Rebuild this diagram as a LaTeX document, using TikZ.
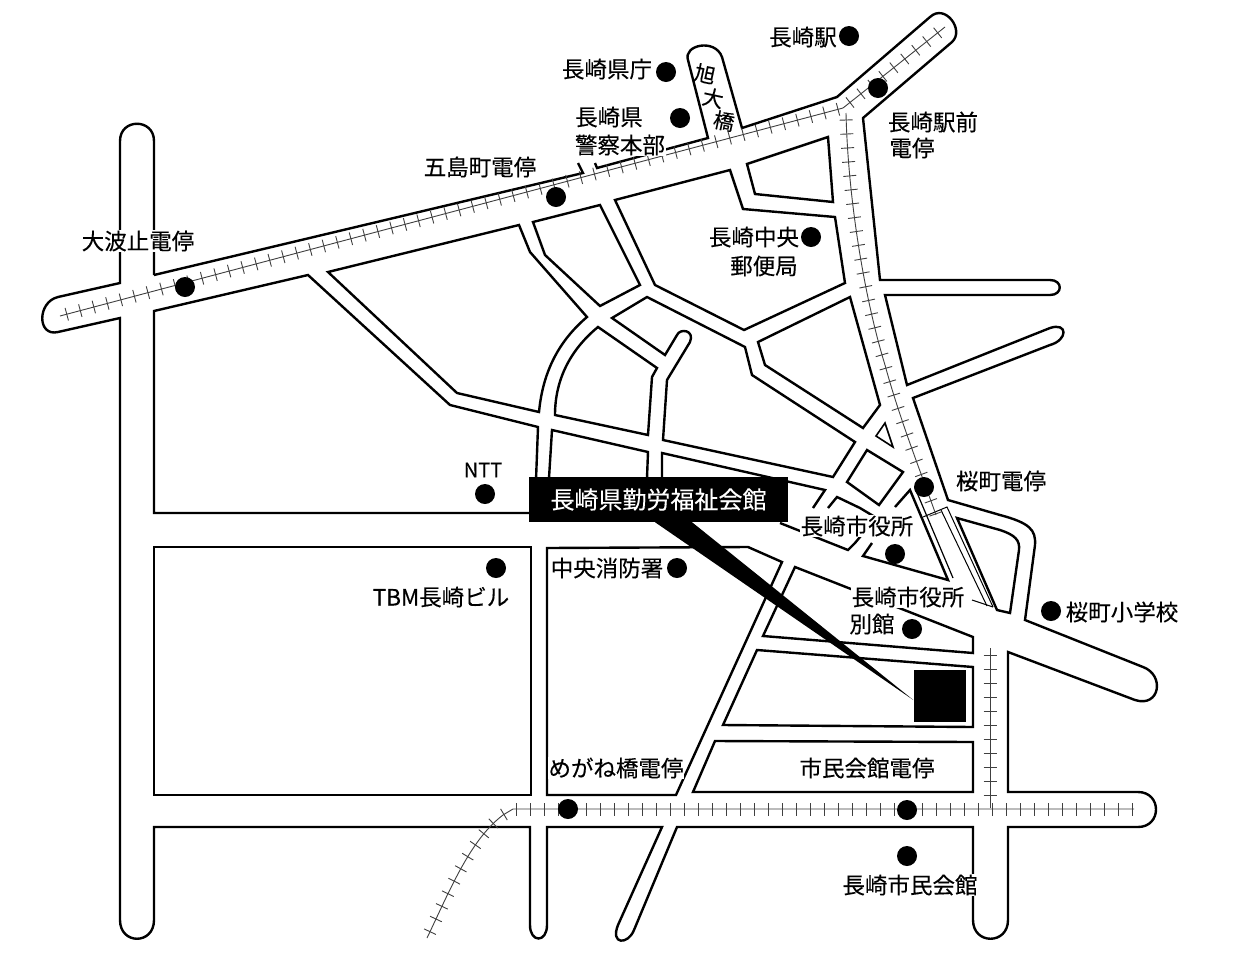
\documentclass[tikz,border=0pt]{standalone}
\usepackage{fontspec}
\setmainfont{Noto Sans CJK JP}[FakeBold=0.25]
\usetikzlibrary{decorations.markings}
\tikzset{
  road/.style={draw=black,line width=2.4pt,line join=miter},
  lbl/.style={fill=white,inner sep=0.5pt,font=\fontsize{22.5}{24}\selectfont},
  lblnf/.style={inner sep=0pt,font=\fontsize{21}{22}\selectfont},
  stop/.style={circle,fill=black,inner sep=0pt,minimum size=20pt},
  rail/.style={draw=black!75,line width=0.9pt,postaction={decorate},
    decoration={markings,mark=between positions 7pt and -1pt step 14pt with
      {\draw[black!75,line width=0.9pt] (0pt,-6.5pt)--(0pt,6.5pt);}}},
}
\begin{document}
\begin{tikzpicture}[x=1pt,y=-1pt]
\useasboundingbox (0,0) rectangle (1248,954);
\fill[white] (0,0) rectangle (1248,954);
% outer outline
\path[road] (154,275)--(154,141) .. controls (154,118) and (120,118) .. (120,141)
 --(120,283)--(58,297) .. controls (37,302) and (37,337) .. (58,332)--(120,318)
 --(120,920) .. controls (120,945) and (154,945) .. (154,920)
 --(154,827)--(530,827)--(530,925) .. controls (530,943) and (547,943) .. (547,925)
 --(547,827)--(662,827)--(618,925) .. controls (610,945) and (628,945) .. (634,930)
 --(677,827)--(973,827)--(973,920) .. controls (973,945) and (1008,945) .. (1008,920)
 --(1008,827)--(1138,827) .. controls (1162,827) and (1162,792) .. (1138,792)
 --(1008,792)--(1008,652)--(1135,700) .. controls (1160,708) and (1165,675) .. (1143,667)
 --(1025,620)--(1035,545) .. controls (1036,530) and (1030,523) .. (1000,515)
 --(948,500)--(913,398)--(1050,345) .. controls (1068,340) and (1068,322) .. (1050,328)
 --(907,385)--(885,295)--(1050,295) .. controls (1063,295) and (1063,280) .. (1050,280)
 --(880,280)--(863,118)--(952,42) .. controls (965,30) and (945,3) .. (930,17)
 --(837,97)--(742,128)--(722,57) .. controls (715,38) and (683,45) .. (688,60)
 --(708,138)--(597,168)--(595,163);
\path[road] (578,163)--(583,173)--(154,275);
% blocks
\path[road] (530,513)--(154,513)--(154,311)--(308,275)--(450,405)--(538,427)--(536,480);
\path[road] (328,272)--(457,393)--(539,412) .. controls (543,370) and (560,340) .. (587,317)--(530,252)--(519,225)--cycle;
\path[road] (533,222)--(600,205)--(640,285)--(600,306)--(545,255)--cycle;
\path[road] (615,200)--(730,170)--(743,209)--(835,217)--(845,283)--(744,330)--(655,285)--cycle;
\path[road] (747,164)--(828,137)--(833,202)--(755,194)--cycle;
\path[road] (850,297)--(758,342)--(765,365)--(863,428)--(880,405)--cycle;
\path[road] (647,297)--(745,347)--(752,375)--(855,442)--(833,477)--(663,440)--(667,380)--(690,342) .. controls (695,330) and (680,328) .. (677,335)--(665,355)--(612,318)--cycle;
\path[road] (598,327)--(657,368)--(652,377)--(648,435)--(555,415) .. controls (555,380) and (570,350) .. (598,327)--cycle;
\path[road] (549,478)--(552,430)--(648,452)--(647,478);
\path[road] (662,478)--(662,453)--(825,490)--(813,508);
\path[road] (780,523)--(848,550)--(855,543)--(870,525);
\path[road] (828,508)--(837,497)--(860,508)--(880,520);
\path[road] (895,507)--(910,490)--(948,580)--(863,556)--(872,543);
\path[road,line width=1.2pt] (915,488)--(953,578);
\path[road,line width=1pt] (923,517)--(947,507)--(993,607);
\path[road,line width=1pt] (941,510)--(987,606);
\path[road,line width=1pt] (972,600)--(993,607);
\path[road] (957,518)--(1000,530) .. controls (1015,535) and (1020,540) .. (1019,550)--(1010,613)--(997,610)--cycle;
\path[road] (867,450)--(903,472)--(879,505)--(847,482)--cycle;
\path[road,line width=1.6pt] (885,423)--(876,436)--(893,447)--cycle;
\path[road] (154,547) rectangle (531,795);
\path[road] (547,548)--(748,547)--(782,562)--(676,795)--(547,795)--cycle;
\path[road] (795,567)--(973,637)--(973,653)--(763,636)--cycle;
\path[road] (757,650)--(973,667)--(973,727)--(723,725)--cycle;
\path[road] (715,741)--(973,742)--(973,792)--(693,792)--cycle;
% tram tracks
\path[rail] (60,316)--(843,108)--(945,27);
\path[rail] (846,113) .. controls (848,200) and (865,300) .. (885,365) .. controls (900,420) and (920,470) .. (936,515);
\path[rail] (427,938) .. controls (450,890) and (470,840) .. (503,815)--(513,809)--(1134,809);
\path[rail] (990,648)--(990,808);
% labels
\node[lbl] (nEki) at (803,37) {長崎駅};
\node[lbl] (nKencho) at (607,69) {長崎県庁};
\node[lbl] (nKei1) at (609,117) {長崎県};
\node[lbl] (nKei2) at (620,145) {警察本部};
\node[lbl] (nEkimae1) at (933,122) {長崎駅前};
\node[lbl] (nEkimae2) at (912,148) {電停};
\node[lblnf,rotate=-12] (nBr1) at (705,74) {旭};
\node[lblnf,rotate=-12] (nBr2) at (713,98) {大};
\node[lblnf,rotate=-12] (nBr3) at (724,121) {橋};
\node[lbl] (nGoto) at (480,167) {五島町電停};
\node[lbl] (nOhato) at (138,241) {大波止電停};
\node[lbl] (nPost1) at (754,237) {長崎中央};
\node[lbl] (nPost2) at (764,266) {郵便局};
\node[lbl,font=\fontsize{20}{22}\selectfont] (nNtt) at (483,470) {NTT};
\node[lbl] (nSakura) at (1001,481) {桜町電停};
\node[lbl] (nCity) at (857,526) {長崎市役所};
\node[lbl] (nTbm) at (441,597) {TBM長崎ビル};
\node[lbl] (nFire) at (607,568) {中央消防署};
\node[lbl] (nAnnex1) at (908,597) {長崎市役所};
\node[lbl] (nAnnex2) at (872,624) {別館};
\node[lbl] (nSchool) at (1122,612) {桜町小学校};
\node[lbl] (nMegane) at (616,768) {めがね橋電停};
\node[lbl] (nShimin) at (867,768) {市民会館電停};
\node[lbl] (nHall) at (910,885) {長崎市民会館};
% destination
\node[fill=black,minimum width=52pt,minimum height=52pt,inner sep=0pt] (bldg) at (939.5,696) {};
\node[fill=black,text=white,minimum width=259pt,minimum height=45pt,inner sep=0pt,font=\fontsize{24}{26}\selectfont] (hq) at (658.5,499.5) {長崎県勤労福祉会館};
\fill[black] ([xshift=-3.5pt]hq.south) -- ([xshift=33.5pt]hq.south) -- ([yshift=-4pt]bldg.west) -- cycle;
% stops
\foreach \n/\p in {s1/{185,287},s2/{556,197},s3/{878,88},s4/{849,36},s5/{666,72},s6/{680,118},s7/{811,237},s8/{924,487},s9/{895,554},s10/{912,629},s11/{1051,611},s12/{677,568},s13/{496,568},s14/{485,494},s15/{568,809},s16/{907,810},s17/{907,856}}
  \node[stop] (\n) at (\p) {};
\end{tikzpicture}
\end{document}
